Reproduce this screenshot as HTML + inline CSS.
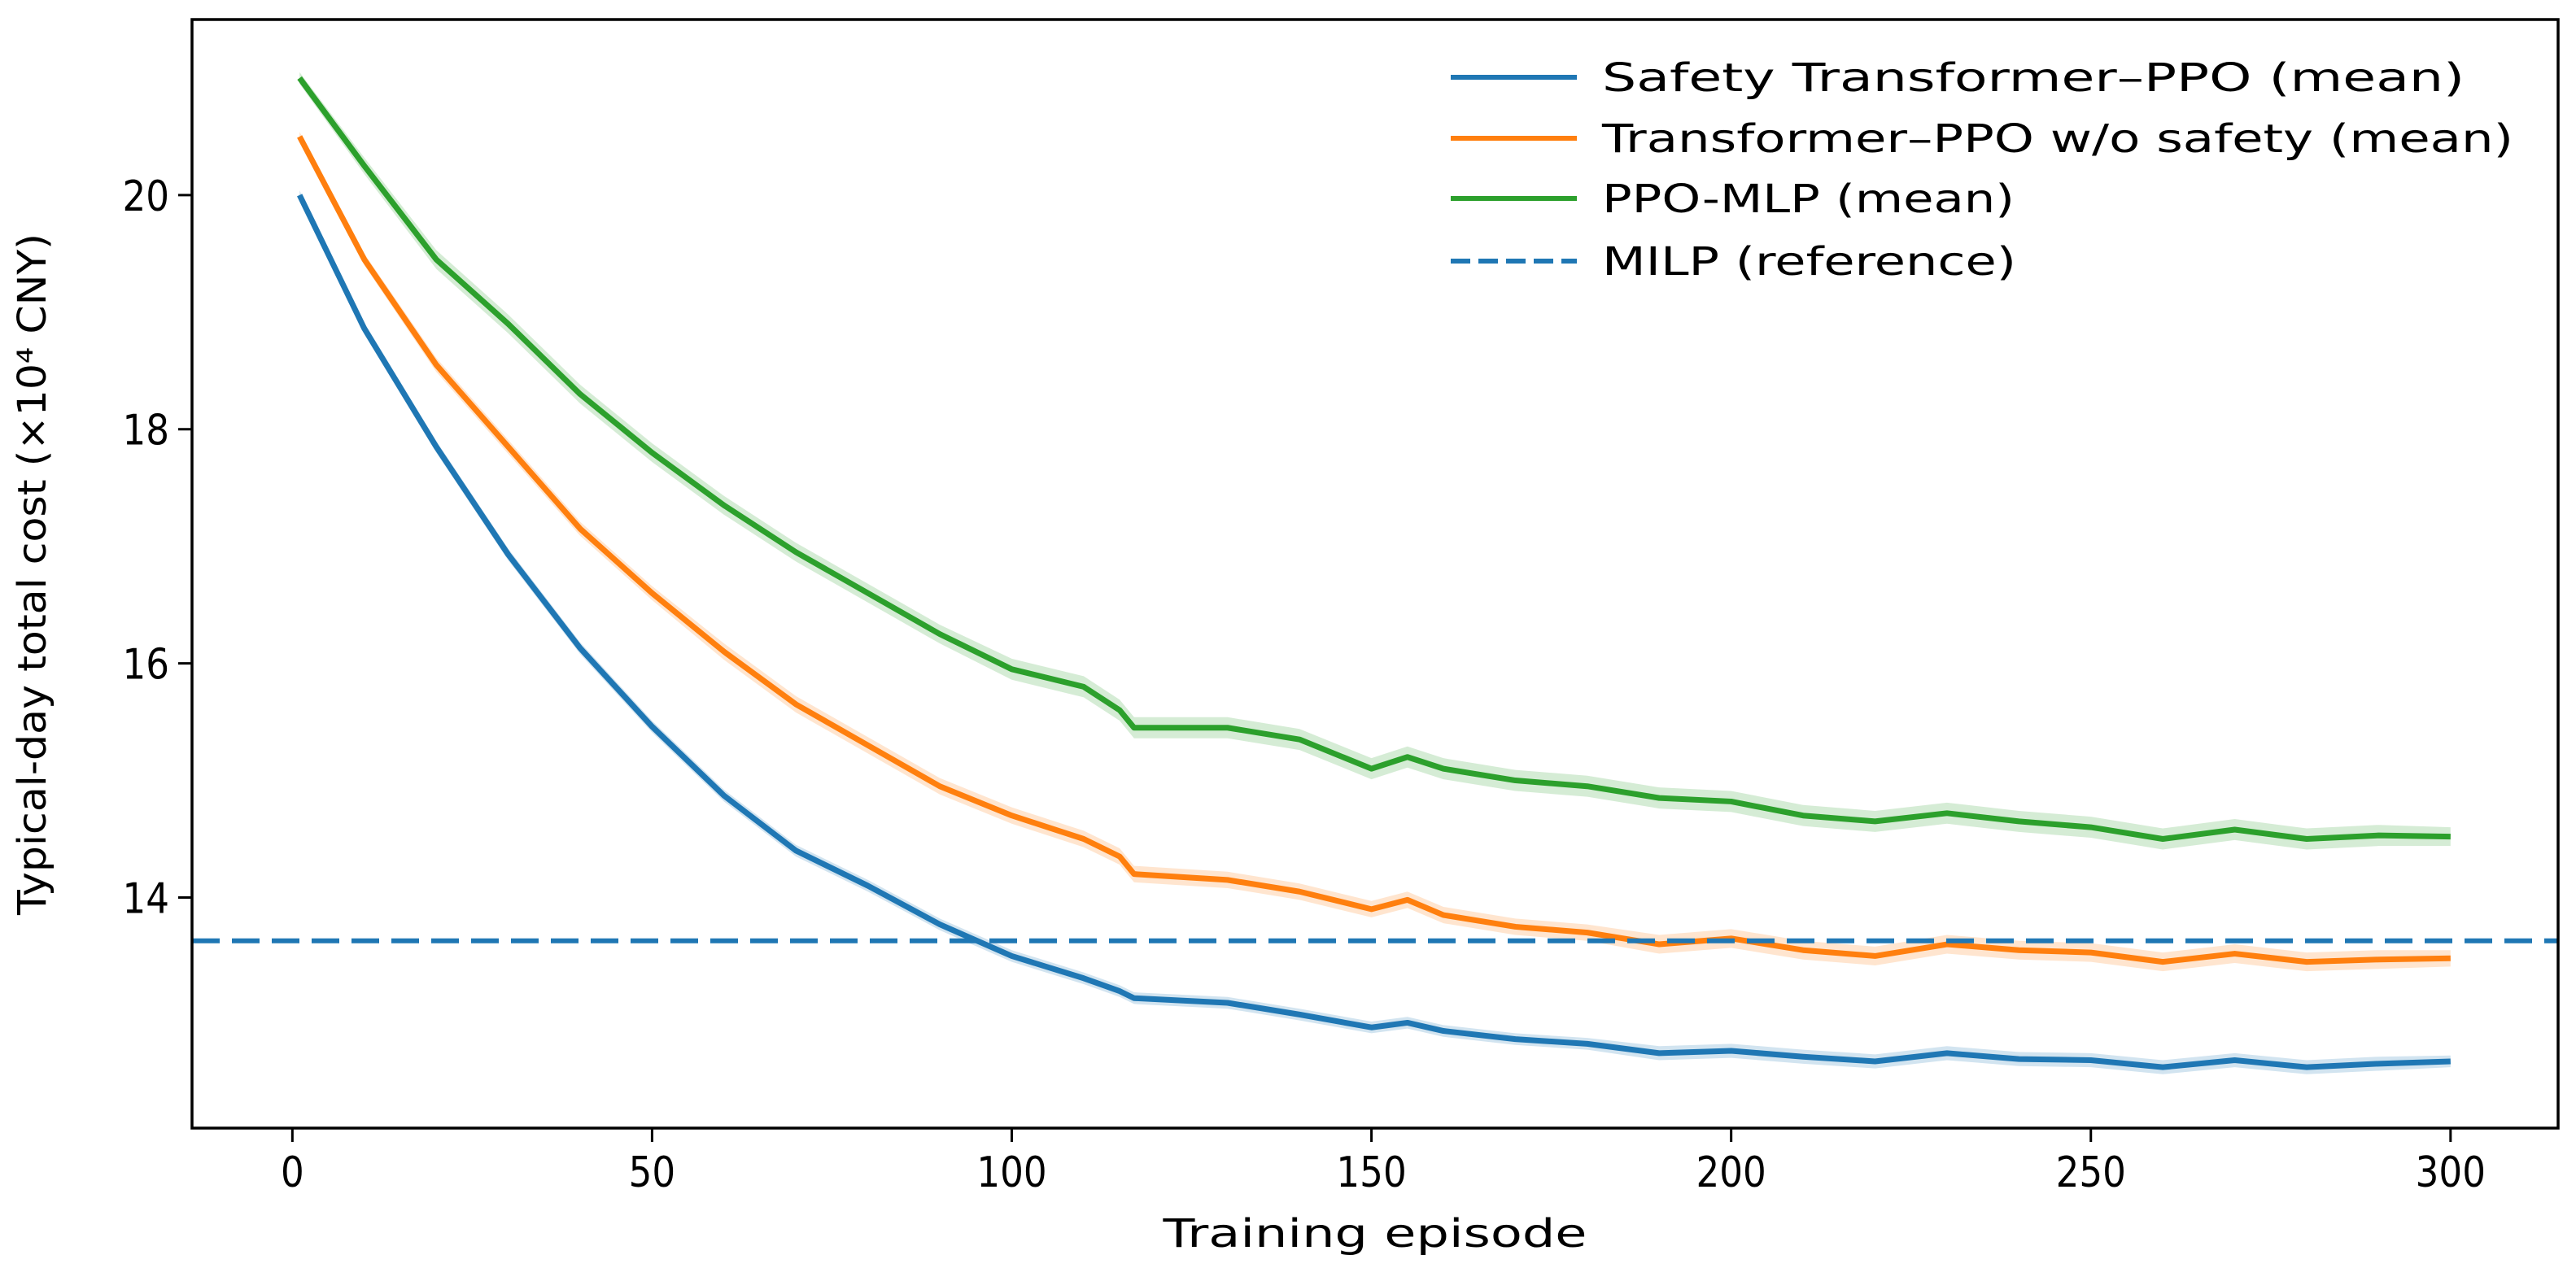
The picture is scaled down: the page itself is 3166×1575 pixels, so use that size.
<!DOCTYPE html>
<html><head><meta charset="utf-8"><style>
html,body{margin:0;padding:0;background:#fff;}
svg{display:block;font-family:"DejaVu Sans","Liberation Sans",sans-serif;}
</style></head><body>
<svg id="chart" width="3166" height="1575" viewBox="0 0 3166 1575" xmlns="http://www.w3.org/2000/svg">
<rect width="3166" height="1575" fill="#fff"/>
<g id="bands"></g>
<g id="lines"></g>
<g id="axes"></g>
<g id="legend"></g>
</svg>
<script>
const episodes = [1,10,20,30,40,50,60,70,80,90,100,110,115,117,130,140,150,155,160,170,180,190,200,210,220,230,240,250,260,270,280,290,300];
const safetyMean = [20.0,18.86,17.85,16.93,16.13,15.46,14.87,14.4,14.1,13.77,13.5,13.31,13.2,13.14,13.1,13.0,12.89,12.93,12.86,12.79,12.75,12.67,12.69,12.64,12.6,12.67,12.62,12.61,12.55,12.61,12.55,12.58,12.6];
const noSafetyMean = [20.5,19.45,18.55,17.85,17.15,16.6,16.1,15.65,15.3,14.95,14.7,14.5,14.35,14.2,14.15,14.05,13.9,13.98,13.85,13.75,13.7,13.6,13.65,13.55,13.5,13.6,13.55,13.53,13.45,13.52,13.45,13.47,13.48];
const mlpMean = [21.0,20.25,19.45,18.9,18.3,17.8,17.35,16.95,16.6,16.25,15.95,15.8,15.6,15.45,15.45,15.35,15.1,15.2,15.1,15.0,14.95,14.85,14.82,14.7,14.65,14.72,14.65,14.6,14.5,14.58,14.5,14.53,14.52];
const safetyStd = [0.04,0.05,0.05,0.05,0.05,0.05,0.05,0.05,0.05,0.05,0.05,0.05,0.05,0.05,0.05,0.05,0.05,0.05,0.05,0.05,0.05,0.06,0.06,0.06,0.06,0.06,0.06,0.06,0.06,0.06,0.06,0.06,0.05];
const noSafetyStd = [0.04,0.05,0.06,0.06,0.06,0.06,0.07,0.07,0.07,0.07,0.07,0.07,0.07,0.07,0.07,0.07,0.07,0.07,0.07,0.07,0.07,0.08,0.08,0.08,0.08,0.08,0.08,0.08,0.08,0.08,0.08,0.08,0.07];
const mlpStd = [0.05,0.07,0.08,0.08,0.08,0.08,0.08,0.08,0.08,0.08,0.09,0.09,0.09,0.09,0.09,0.09,0.09,0.09,0.09,0.09,0.09,0.09,0.09,0.09,0.09,0.09,0.09,0.09,0.09,0.09,0.09,0.09,0.08];
const milpValue = 13.63;
const xTicks = [0,50,100,150,200,250,300];
const yTicks = [14,16,18,20];

const NS="http://www.w3.org/2000/svg";
const L=236,R=3144,T=24,B=1387;
const xmin=-13.95,xmax=314.95,ymin=12.03,ymax=21.5;
const X=v=>L+(v-xmin)/(xmax-xmin)*(R-L);
const Y=v=>B-(v-ymin)/(ymax-ymin)*(B-T);
function mk(tag,attrs,parent){const e=document.createElementNS(NS,tag);for(const k in attrs)e.setAttribute(k,attrs[k]);parent.appendChild(e);return e;}
const bands=document.getElementById('bands'),lines=document.getElementById('lines'),axes=document.getElementById('axes'),legend=document.getElementById('legend');

const series=[
 {name:'safety',mean:safetyMean,std:safetyStd,color:'#1f77b4'},
 {name:'no-safety',mean:noSafetyMean,std:noSafetyStd,color:'#ff7f0e'},
 {name:'ppo-mlp',mean:mlpMean,std:mlpStd,color:'#2ca02c'}
];
series.forEach(s=>{
  let up=episodes.map((e,i)=>X(e)+','+Y(s.mean[i]+s.std[i]));
  let dn=episodes.map((e,i)=>X(e)+','+Y(s.mean[i]-s.std[i])).reverse();
  const b=mk('polygon',{points:up.concat(dn).join(' '),fill:s.color,'fill-opacity':0.2,stroke:'none'},bands);
  
  
  const p=mk('polyline',{points:episodes.map((e,i)=>X(e)+','+Y(s.mean[i])).join(' '),fill:'none',stroke:s.color,'stroke-width':7,'stroke-linejoin':'round'},lines);
  
  
});
const ml=mk('line',{x1:L,x2:R,y1:Y(milpValue),y2:Y(milpValue),stroke:'#1f77b4','stroke-width':6,'stroke-dasharray':'34 15'},lines);



const fr=mk('rect',{x:L,y:T,width:R-L,height:B-T,fill:'none',stroke:'#000','stroke-width':3.5},axes);


xTicks.forEach(t=>{
  const tk=mk('line',{x1:X(t),x2:X(t),y1:B,y2:B+17,stroke:'#000','stroke-width':3},axes);
  
  
  const tx=mk('text',{x:X(t),y:B+72,'text-anchor':'middle','font-size':52,fill:'#000',transform:`translate(${X(t)},0) scale(0.87,1) translate(${-X(t)},0)`},axes);
  tx.textContent=t;
  
  
});
yTicks.forEach(t=>{
  const tk=mk('line',{x1:L-17,x2:L,y1:Y(t),y2:Y(t),stroke:'#000','stroke-width':3},axes);
  
  
  const tx=mk('text',{x:L-28,y:Y(t)+19,'text-anchor':'end','font-size':52,fill:'#000',transform:`translate(${L-28},0) scale(0.87,1) translate(${-(L-28)},0)`},axes);
  tx.textContent=t;
  
  
});
const xl=mk('text',{x:(L+R)/2,y:1533,'text-anchor':'middle','font-size':48,textLength:521,lengthAdjust:'spacingAndGlyphs'},axes);
xl.textContent='Training episode';


const yl=mk('text',{x:0,y:0,'text-anchor':'middle','font-size':48,textLength:838,lengthAdjust:'spacingAndGlyphs',transform:'translate(56,706) rotate(-90)'},axes);
yl.textContent='Typical-day total cost (×10⁴ CNY)';



const leg=[
 {label:'Safety Transformer–PPO (mean)',color:'#1f77b4',dash:null,y:95,w:1060},
 {label:'Transformer–PPO w/o safety (mean)',color:'#ff7f0e',dash:null,y:170,w:1120},
 {label:'PPO-MLP (mean)',color:'#2ca02c',dash:null,y:244,w:507},
 {label:'MILP (reference)',color:'#1f77b4',dash:'24 10',y:321,w:509}
];
leg.forEach(e=>{
  const a={x1:1783,x2:1938,y1:e.y,y2:e.y,stroke:e.color,'stroke-width':6};
  if(e.dash)a['stroke-dasharray']=e.dash;
  const ln=mk('line',a,legend);
  
  
  const tx=mk('text',{x:1969,y:e.y+17,'font-size':48,textLength:e.w,lengthAdjust:'spacingAndGlyphs'},legend);
  tx.textContent=e.label;
  
  
});
</script>
</body></html>
